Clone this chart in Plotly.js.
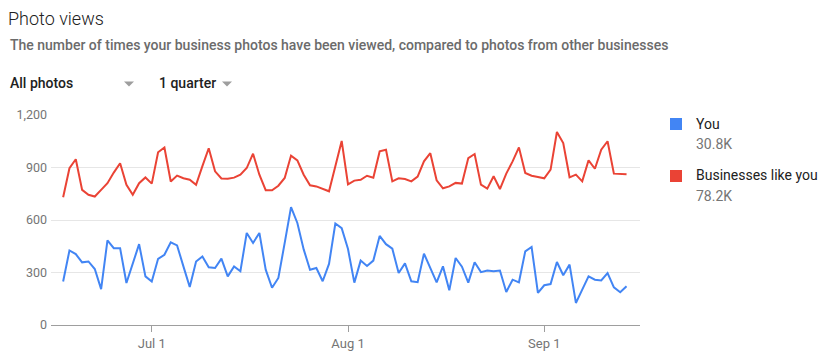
<!DOCTYPE html>
<html>
<head>
<meta charset="utf-8">
<script src="https://cdn.plot.ly/plotly-3.0.1.min.js"></script>
<style>
html,body{margin:0;padding:0;background:#fff;}
#chart{width:823px;height:361px;}
</style>
</head>
<body>
<div id="chart"></div>
<script>
// ---- data ----
const startDate = '2019-06-17';
const youViews = [249,426,405,358,363,320,205,483,439,439,240,354,462,278,249,378,401,472,455,335,217,363,392,330,326,379,278,335,307,526,469,526,316,213,269,469,674,583,432,316,326,250,349,580,553,434,242,368,337,368,509,462,436,297,352,250,245,408,326,244,335,198,383,333,242,359,302,311,307,311,189,259,244,421,446,183,227,234,360,284,345,126,202,278,259,255,297,215,187,221];
const othersViews = [730,896,947,772,744,734,772,810,871,924,801,744,810,843,808,987,1014,820,854,839,830,801,908,1010,878,837,836,842,859,897,979,859,770,770,796,840,968,941,859,798,792,777,764,907,1052,804,825,830,853,842,992,1001,821,838,834,821,848,935,982,827,781,792,812,808,954,977,802,779,850,777,865,935,1015,869,853,846,838,888,1103,1040,844,859,821,941,893,1002,1050,865,861,861];
const seriesNames = ['You','Businesses like you'];
const seriesTotals = ['30.8K','78.2K'];
const tickDates = ['2019-07-01','2019-08-01','2019-09-01'];
const tickLabels = ['Jul 1','Aug 1','Sep 1'];
const yTicks = [0,300,600,900,1200];
const yTickLabels = ['0','300','600','900','1,200'];

// dates
const dates = youViews.map((_, i) => {
  const d = new Date(startDate + 'T00:00:00Z');
  d.setUTCDate(d.getUTCDate() + i);
  return d.toISOString().slice(0,10);
});

const BLUE = '#4285F4', RED = '#EA4335';

// plot area in pixels
const W = 823, H = 361;
const L = 51, R = 640, T = 115, B = 325;
const px = x => (x - L) / (R - L);
const py = y => (B - y) / (B - T);

const traces = [
  {x: dates, y: othersViews, type: 'scatter', mode: 'lines', name: seriesNames[1],
   line: {color: RED, width: 2}, hoverinfo: 'x+y'},
  {x: dates, y: youViews, type: 'scatter', mode: 'lines', name: seriesNames[0],
   line: {color: BLUE, width: 2}, hoverinfo: 'x+y'}
];

const font = 'Roboto, Arial, sans-serif';
const annotations = [
  {text: 'The number of times your business photos have been viewed, compared to photos from other businesses',
   x: px(8), y: py(45), xref: 'paper', yref: 'paper', xanchor: 'left', yanchor: 'middle',
   showarrow: false, font: {family: font, size: 14, color: '#6b6b6b', weight: 500}},
  {text: 'All photos', x: px(8), y: py(83), xref: 'paper', yref: 'paper', xanchor: 'left', yanchor: 'middle',
   showarrow: false, font: {family: font, size: 14, color: '#212121', weight: 500}},
  {text: '1 quarter', x: px(157), y: py(83), xref: 'paper', yref: 'paper', xanchor: 'left', yanchor: 'middle',
   showarrow: false, font: {family: font, size: 14, color: '#212121', weight: 500}},
  // legend texts
  {text: seriesNames[0], x: px(694), y: py(124), xref: 'paper', yref: 'paper', xanchor: 'left', yanchor: 'middle',
   showarrow: false, font: {family: font, size: 14, color: '#212121'}},
  {text: seriesTotals[0], x: px(694), y: py(144), xref: 'paper', yref: 'paper', xanchor: 'left', yanchor: 'middle',
   showarrow: false, font: {family: font, size: 14, color: '#757575'}},
  {text: seriesNames[1], x: px(694), y: py(175), xref: 'paper', yref: 'paper', xanchor: 'left', yanchor: 'middle',
   showarrow: false, font: {family: font, size: 14, color: '#212121'}},
  {text: seriesTotals[1], x: px(694), y: py(196), xref: 'paper', yref: 'paper', xanchor: 'left', yanchor: 'middle',
   showarrow: false, font: {family: font, size: 14, color: '#757575'}}
];

const tri = (cx, cy) => ({
  type: 'path', xref: 'paper', yref: 'paper',
  path: `M ${px(cx-5)} ${py(cy-2.5)} L ${px(cx+5)} ${py(cy-2.5)} L ${px(cx)} ${py(cy+2.5)} Z`,
  fillcolor: '#9e9e9e', line: {width: 0}
});
const sq = (x0, y0, c) => ({
  type: 'rect', xref: 'paper', yref: 'paper',
  x0: px(x0), x1: px(x0 + 12), y0: py(y0), y1: py(y0 + 12),
  fillcolor: c, line: {width: 0}
});

const shapes = [tri(129, 84), tri(227, 84), sq(670, 118, BLUE), sq(670, 170, RED)];

const layout = {
  width: W, height: H,
  margin: {l: L, r: W - R, t: T, b: H - B, pad: 0},
  paper_bgcolor: '#fff', plot_bgcolor: '#fff',
  showlegend: false,
  font: {family: font, size: 12, color: '#757575'},
  title: {text: 'Photo views', x: 8 / W, xanchor: 'left', xref: 'container',
          y: 1 - 19 / H, yanchor: 'middle', yref: 'container',
          font: {family: font, size: 18, color: '#212121', weight: 300}},
  xaxis: {
    type: 'date',
    range: ['2019-06-15 02:00', '2019-09-16 03:00'],
    tickmode: 'array', tickvals: tickDates, ticktext: tickLabels,
    ticks: 'outside', ticklen: 6, tickcolor: '#9e9e9e', tickwidth: 1,
    showgrid: false, showline: true, linecolor: '#9e9e9e', linewidth: 1,
    zeroline: false, fixedrange: true,
    tickfont: {family: font, size: 13, color: '#757575'}
  },
  yaxis: {
    range: [0, 1200],
    tickmode: 'array', tickvals: yTicks, ticktext: yTickLabels,
    showgrid: true, gridcolor: '#e6e6e6', gridwidth: 1,
    zeroline: false, showline: false, ticks: '', ticklen: 5,
    ticklabelstandoff: 3,
    tickfont: {family: font, size: 12.5, color: '#757575'},
    fixedrange: true
  },
  annotations: annotations,
  shapes: shapes
};

Plotly.newPlot('chart', traces, layout, {displayModeBar: false, staticPlot: true});
</script>
</body>
</html>
